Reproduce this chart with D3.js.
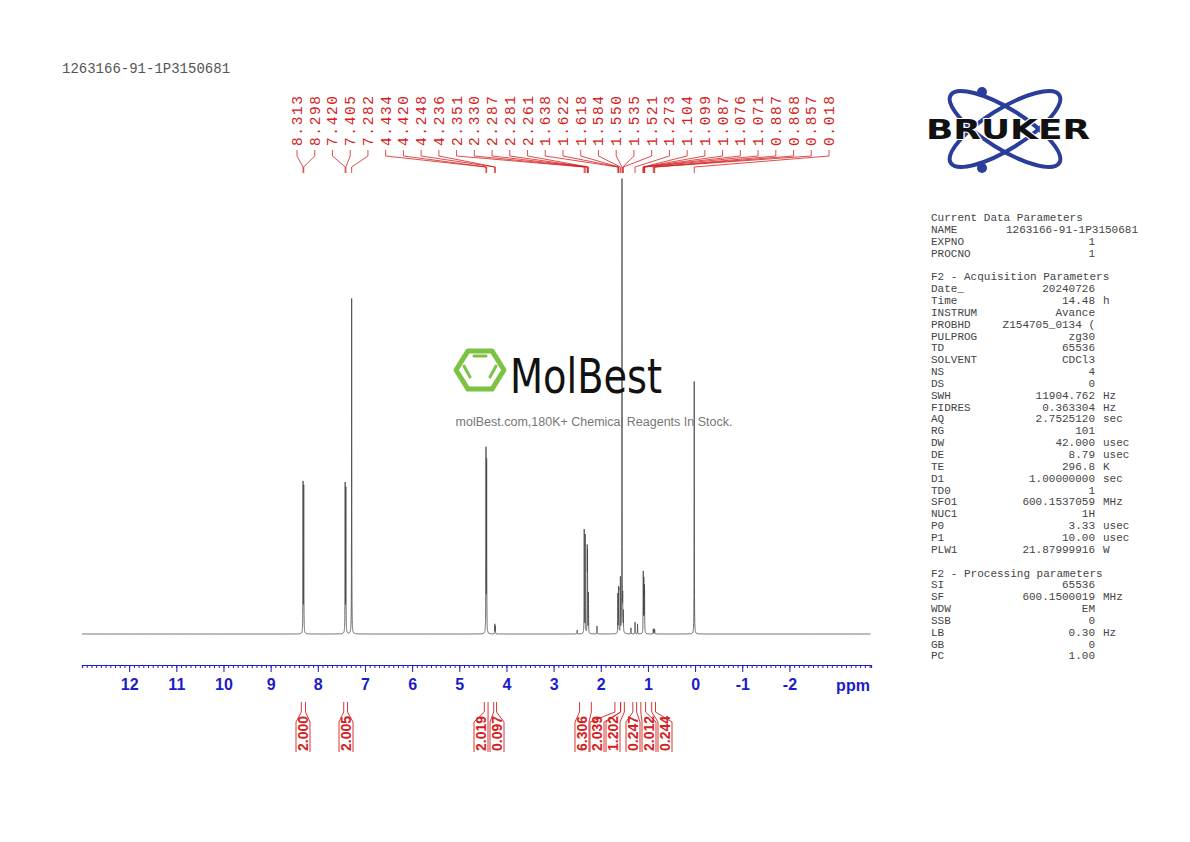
<!DOCTYPE html>
<html>
<head>
<meta charset="utf-8">
<script src="https://cdn.jsdelivr.net/npm/d3@7"></script>
<style>
  body { margin: 0; background: #fff; }
  svg { display: block; }
</style>
</head>
<body>
<svg id="chart" width="1190" height="842"></svg>
<script>
// Peak list: shift (ppm) and height (arbitrary units)
const peakShifts = [8.313, 8.298, 7.420, 7.405, 7.282, 4.434, 4.420, 4.248, 4.236,
  2.351, 2.330, 2.287, 2.281, 2.261, 1.638, 1.622, 1.618, 1.584, 1.550, 1.535, 1.521,
  1.273, 1.104, 1.099, 1.087, 1.076, 1.071, 0.887, 0.868, 0.857, 0.018];
const peakHeights = [150, 146, 148, 144, 344, 182, 170, 10, 8,
  104, 98, 78, 72, 40, 40, 36, 34, 56, 454, 30, 20,
  12, 8, 59, 52, 40, 34, 5, 5, 4, 259];
// small unlabelled lines
const extraShifts = [2.50, 2.08, 1.36, 1.22];
const extraHeights = [4, 8, 6, 10];

// Printed peak labels (top)
const peakLabels = ["8.313","8.298","7.420","7.405","7.282","4.434","4.420","4.248","4.236",
  "2.351","2.330","2.287","2.281","2.261","1.638","1.622","1.618","1.584","1.550","1.535",
  "1.521","1.273","1.104","1.099","1.087","1.076","1.071","0.887","0.868","0.857","0.018"];

// Integrals: label, range start, range end (ppm)
const integralValues = ["2.000","2.005","2.019","0.097","6.306","2.039","1.202","0.247","2.012","0.244"];
const integralFrom = [8.35, 7.45, 4.47, 4.27, 2.45, 1.70, 1.58, 1.32, 1.15, 0.92];
const integralTo   = [8.26, 7.37, 4.39, 4.21, 2.20, 1.58, 1.50, 1.24, 1.05, 0.84];
const integralLabelX = [303, 346, 481, 497, 582, 597, 613, 633, 649, 665];

const axisTicks = [12, 11, 10, 9, 8, 7, 6, 5, 4, 3, 2, 1, 0, -1, -2];

const paramLines = [
  ["Current Data Parameters", "", ""],
  ["NAME", "1263166-91-1P3150681", "", 1138],
  ["EXPNO", "1", ""],
  ["PROCNO", "1", ""],
  null,
  ["F2 - Acquisition Parameters", "", ""],
  ["Date_", "20240726", ""],
  ["Time", "14.48", "h"],
  ["INSTRUM", "Avance", ""],
  ["PROBHD", "Z154705_0134 (", ""],
  ["PULPROG", "zg30", ""],
  ["TD", "65536", ""],
  ["SOLVENT", "CDCl3", ""],
  ["NS", "4", ""],
  ["DS", "0", ""],
  ["SWH", "11904.762", "Hz"],
  ["FIDRES", "0.363304", "Hz"],
  ["AQ", "2.7525120", "sec"],
  ["RG", "101", ""],
  ["DW", "42.000", "usec"],
  ["DE", "8.79", "usec"],
  ["TE", "296.8", "K"],
  ["D1", "1.00000000", "sec"],
  ["TD0", "1", ""],
  ["SFO1", "600.1537059", "MHz"],
  ["NUC1", "1H", ""],
  ["P0", "3.33", "usec"],
  ["P1", "10.00", "usec"],
  ["PLW1", "21.87999916", "W"],
  null,
  ["F2 - Processing parameters", "", ""],
  ["SI", "65536", ""],
  ["SF", "600.1500019", "MHz"],
  ["WDW", "EM", ""],
  ["SSB", "0", ""],
  ["LB", "0.30", "Hz"],
  ["GB", "0", ""],
  ["PC", "1.00", ""]
];

const svg = d3.select('#chart');
const red = '#d42020', blue = '#1c1cc8';

const x = d3.scaleLinear().domain([13.0, -3.73]).range([82, 871]);
const y = d3.scaleLinear().domain([0, 454]).range([634, 180]);

// Build spectrum trace as sum of narrow Lorentzian lines
const allShifts = peakShifts.concat(extraShifts);
const allHeights = peakHeights.concat(extraHeights);
const hw = 0.0025;
let pts = d3.range(13.0, -3.73, -0.01);
allShifts.forEach(s => { for (let d = -0.03; d <= 0.03; d += 0.0008) pts.push(s + d); });
pts.sort((a, b) => b - a);
const trace = pts.map(p => {
  let v = 0;
  allShifts.forEach((s, i) => { const t = (p - s) / hw; v += allHeights[i] / (1 + t * t); });
  return [p, v];
});
svg.append('path')
  .datum(trace)
  .attr('fill', 'none').attr('stroke', '#444').attr('stroke-width', 0.8)
  .attr('d', d3.line().x(d => x(d[0])).y(d => y(d[1])));

// Axis
const axisG = svg.append('g').attr('transform', 'translate(0,665)');
axisG.call(d3.axisBottom(x).tickValues(d3.range(-37, 131).map(v => v / 10)).tickSize(3).tickFormat(''))
  .call(g => g.select('.domain').attr('stroke', blue).attr('stroke-width', 1.2))
  .call(g => g.selectAll('.tick line').attr('stroke', blue));
axisG.append('g')
  .call(d3.axisBottom(x).tickValues(axisTicks).tickSize(7).tickFormat(d => String(d)))
  .call(g => g.select('.domain').remove())
  .call(g => g.selectAll('.tick line').attr('stroke', blue))
  .call(g => g.selectAll('.tick text').attr('fill', blue).attr('dy', '0.95em')
    .style('font', 'bold 16px "Liberation Sans", Arial, sans-serif'));
svg.append('text').attr('x', 853).attr('y', 691).attr('text-anchor', 'middle')
  .attr('fill', blue).style('font', 'bold 16px "Liberation Sans", Arial, sans-serif').text('ppm');

// Peak labels at the top
const labelX = d3.scaleLinear().domain([0, peakLabels.length - 1]).range([297, 829]);
const lab = svg.append('g');
peakLabels.forEach((t, i) => {
  const lx = labelX(i), px = x(peakShifts[i]);
  lab.append('text').attr('transform', `translate(${lx + 5},146) rotate(-90)`)
    .attr('fill', red).attr('textLength', 50).attr('lengthAdjust', 'spacing')
    .style('font', '14.5px "Liberation Mono", "DejaVu Sans Mono", monospace').text(t);
  lab.append('path').attr('fill', 'none').attr('stroke', red).attr('stroke-width', 0.8)
    .attr('d', `M${lx},150 L${lx},156 L${px},167 L${px},173`);
});

// Integrals at the bottom
const integ = svg.append('g');
integralValues.forEach((t, i) => {
  const x1 = x(integralFrom[i]), x2 = x(integralTo[i]), lx = integralLabelX[i];
  integ.append('path').attr('fill', 'none').attr('stroke', red).attr('stroke-width', 0.9)
    .attr('d', `M${x1},702 L${x1},712 L${lx - 7},722 L${lx - 7},752 M${x2},702 L${x2},712 L${lx + 7},722 L${lx + 7},752`);
  integ.append('text').attr('transform', `translate(${lx + 5},751) rotate(-90)`)
    .attr('fill', red).style('font', 'bold 14px "Liberation Sans", Arial, sans-serif').text(t);
});

// Title
svg.append('text').attr('x', 62).attr('y', 73).attr('fill', '#555')
  .style('font', '14px "Liberation Mono", monospace').text('1263166-91-1P3150681');

// Parameter panel
const pg = svg.append('g').attr('fill', '#444').style('font', '11px "Liberation Mono", monospace');
paramLines.forEach((r, i) => {
  if (!r) return;
  const yy = 221 + i * 11.85;
  pg.append('text').attr('x', 931).attr('y', yy).text(r[0]);
  if (r[1]) pg.append('text').attr('x', r[3] || 1095).attr('y', yy).attr('text-anchor', 'end').text(r[1]);
  if (r[2]) pg.append('text').attr('x', 1103).attr('y', yy).text(r[2]);
});

// Bruker logo
const bk = svg.append('g').attr('transform', 'translate(1005,129)');
[-32, 32].forEach(a => bk.append('ellipse').attr('rx', 64).attr('ry', 20).attr('transform', `rotate(${a})`)
  .attr('fill', 'none').attr('stroke', '#2b3d9a').attr('stroke-width', 4));
bk.append('circle').attr('cx', -23).attr('cy', -37).attr('r', 5).attr('fill', '#2b3d9a');
bk.append('circle').attr('cx', -23).attr('cy', 39).attr('r', 5).attr('fill', '#2b3d9a');
bk.append('text').attr('x', 3).attr('y', 10).attr('text-anchor', 'middle').attr('fill', '#111')
  .attr('stroke', '#fff').attr('stroke-width', 2).attr('paint-order', 'stroke')
  .attr('textLength', 164).attr('lengthAdjust', 'spacingAndGlyphs')
  .style('font', '900 27px "DejaVu Sans", Arial, sans-serif').text('BRUKER');

// MolBest watermark
const mb = svg.append('g');
const hex = d3.range(6).map(k => { const a = Math.PI / 3 * k; return [480 + 24 * Math.cos(a), 370 + 22 * Math.sin(a)]; });
mb.append('path').attr('d', d3.line()(hex) + 'Z').attr('fill', 'none').attr('stroke', '#7cc243').attr('stroke-width', 5)
  .attr('stroke-linejoin', 'round');
mb.append('path').attr('fill', 'none').attr('stroke', '#7cc243').attr('stroke-width', 3).attr('stroke-linecap', 'round')
  .attr('d', 'M474,356 L486,356 M464,366 L470,377 M496,366 L490,377');
mb.append('text').attr('x', 510).attr('y', 393).attr('fill', '#111').attr('textLength', 152)
  .attr('lengthAdjust', 'spacingAndGlyphs').style('font', '48px "DejaVu Sans Condensed", "DejaVu Sans", sans-serif').text('MolBest');
mb.append('text').attr('x', 594).attr('y', 426).attr('text-anchor', 'middle').attr('fill', '#777')
  .style('font', '12.5px "Liberation Sans", Arial, sans-serif').text('molBest.com,180K+ Chemical Reagents In Stock.');
</script>
</body>
</html>
